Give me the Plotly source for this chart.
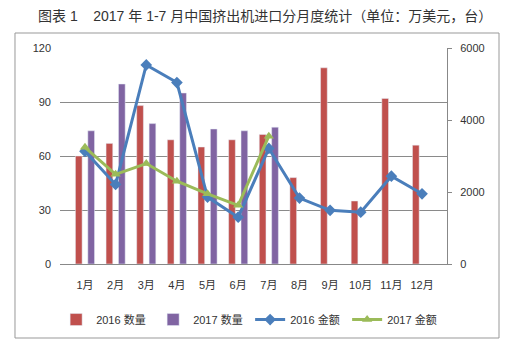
import plotly.graph_objects as go

months = ["1月", "2月", "3月", "4月", "5月", "6月", "7月", "8月", "9月", "10月", "11月", "12月"]
qty_2016 = [60, 67, 88, 69, 65, 69, 72, 48, 109, 35, 92, 66]
qty_2017 = [74, 100, 78, 95, 75, 74, 76, None, None, None, None, None]
amt_2016 = [3130, 2210, 5530, 5040, 1860, 1300, 3210, 1830, 1490, 1440, 2440, 1950]
amt_2017 = [3240, 2490, 2790, 2300, 1950, 1630, 3550, None, None, None, None, None]

FONT = "Liberation Sans, Noto Sans CJK SC, sans-serif"

fig = go.Figure()
fig.add_trace(go.Bar(x=months, y=qty_2016, name="2016 数量", marker_color="#c0504d"))
fig.add_trace(go.Bar(x=months, y=qty_2017, name="2017 数量", marker_color="#8064a2"))
fig.add_trace(go.Scatter(x=months, y=amt_2016, name="2016 金额", yaxis="y2", mode="lines+markers",
                         line=dict(color="#4a7ebb", width=3),
                         marker=dict(symbol="diamond", size=9, color="#4a7ebb")))
fig.add_trace(go.Scatter(x=months, y=amt_2017, name="2017 金额", yaxis="y2", mode="lines+markers",
                         line=dict(color="#9bbb59", width=3),
                         marker=dict(symbol="triangle-up", size=9, color="#9bbb59")))

fig.update_layout(
    width=517, height=351,
    margin=dict(l=60, r=70, t=48, b=87, autoexpand=False),
    paper_bgcolor="white", plot_bgcolor="white",
    font=dict(family=FONT, size=11, color="#333333"),
    barmode="group", bargap=0.19, bargroupgap=0.46,
    xaxis=dict(showline=True, linecolor="#888888", linewidth=1, ticks="",
               ticklabelstandoff=11, tickfont=dict(size=11)),
    yaxis=dict(range=[0, 120], dtick=30, showgrid=True, gridcolor="#8a8a8a", gridwidth=1,
               zeroline=False, showline=False, ticklabelstandoff=8, tickfont=dict(size=11)),
    yaxis2=dict(range=[0, 6000], dtick=2000, overlaying="y", side="right", showgrid=False,
                zeroline=False, showline=True, linecolor="#888888", ticks="outside", ticklen=4,
                tickcolor="#888888", ticklabelstandoff=6, tickfont=dict(size=11)),
    showlegend=True,
    legend=dict(orientation="h", x=-0.01, xanchor="left", y=-0.19, yanchor="top",
                font=dict(size=11), entrywidth=52, itemwidth=30, tracegroupgap=0),
    shapes=[dict(type="rect", xref="paper", yref="paper", x0=-0.1163, x1=1.1344,
                 y0=-0.3426, y1=1.0694, line=dict(color="#999999", width=1), layer="below")],
    annotations=[dict(text="图表 1    2017 年 1-7 月中国挤出机进口分月度统计（单位：万美元，台）",
                      xref="paper", yref="paper", x=0.5297, y=1.148, showarrow=False,
                      xanchor="center", yanchor="middle",
                      font=dict(size=14, color="#333333", family=FONT))],
)

fig.write_html("out.html")
